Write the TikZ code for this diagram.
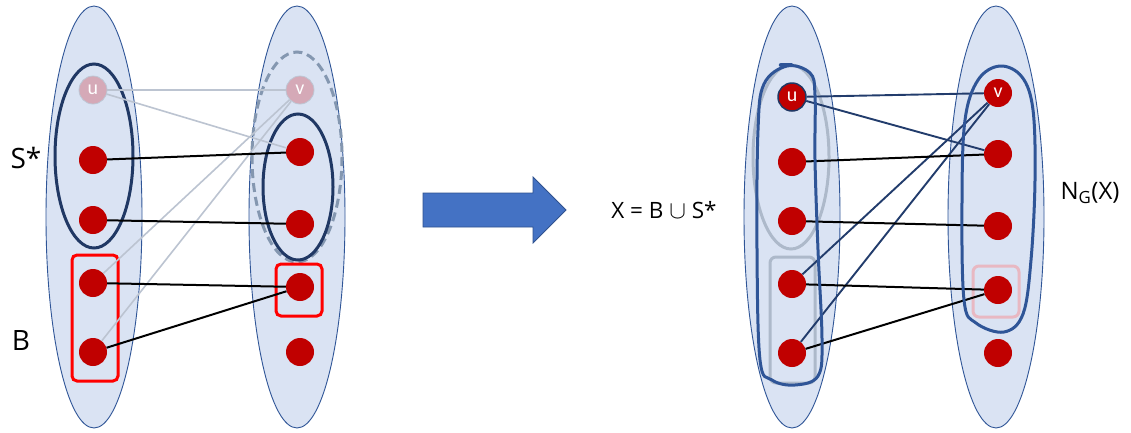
\documentclass[tikz,border=0pt]{standalone}
\usepackage{fontspec}
\setmainfont{Carlito}
\newfontfamily\lblfont{Open Sans}
\usepackage{tikz}
\usetikzlibrary{positioning,calc}
\definecolor{setfill}{HTML}{DAE3F3}
\definecolor{setline}{HTML}{2F5597}
\definecolor{vred}{HTML}{C00000}
\definecolor{navy}{HTML}{203864}
\definecolor{dashgray}{HTML}{8497B0}
\definecolor{fadev}{HTML}{D5A9B7}
\definecolor{fadeline}{HTML}{BCC4D1}
\definecolor{fadegrp}{HTML}{ADB9CA}
\definecolor{fadepink}{HTML}{E8B8C2}
\definecolor{arrfill}{HTML}{4472C4}
\definecolor{arrline}{HTML}{2F528F}

\begin{document}
\begin{tikzpicture}[x=1pt,y=-1pt,
  bigset/.style={fill=setfill, draw=setline, line width=0.9pt},
  vtx/.style={circle, fill=vred, minimum size=28pt, inner sep=0pt, font=\fontsize{20}{20}\selectfont, text=white},
  fvtx/.style={vtx, fill=fadev, draw=fadegrp!80, line width=0.8pt},
  lbl/.style={font=\lblfont\fontsize{28}{28}\selectfont},
  edge/.style={line width=2pt},
  fedge/.style={fadeline, line width=1.6pt},
  nedge/.style={navy!85!setline, line width=1.9pt}]
\useasboundingbox (0,0) rectangle (1131,432);
\fill[white] (0,0) rectangle (1131,432);

% left picture
\draw[bigset] (94,217) ellipse (48 and 211);
\draw[bigset] (297,217) ellipse (48 and 211);
\draw[navy, line width=3pt] (94,156) ellipse (39 and 92);
\draw[dashgray, line width=3pt, dash pattern=on 9pt off 5pt] (297,157) ellipse (45 and 105);
\draw[navy, line width=3pt] (298,187) ellipse (35 and 73);
\draw[red, line width=3pt, rounded corners=5pt] (72,255) rectangle (118,381);
\draw[red, line width=3pt, rounded corners=5pt] (276,264) rectangle (322,316);

\node[fvtx] (l1) at (93,90) {u};
\node[fvtx] (r1) at (300,90) {v};
\foreach \i/\y in {2/160,3/220,4/283,5/352} \node[vtx] (l\i) at (93,\y) {};
\foreach \i/\y in {2/152,3/224,4/287,5/352} \node[vtx] (r\i) at (300,\y) {};

\draw[fedge] (l1) -- (r1);
\draw[fedge] (l1) -- (r2);
\draw[fedge] (r1) -- (l4);
\draw[fedge] (r1) -- (l5);
\draw[edge] (l2) -- (r2);
\draw[edge] (l3) -- (r3);
\draw[edge] (l4) -- (r4);
\draw[edge] (l5) -- (r4);

\node[lbl] (sstar) at (26,158) {S*};
\node[lbl] (bset) at (21,340) {B};

% arrow
\draw[fill=arrfill, draw=arrline, line width=0.8pt] (423,193) -- (533,193) -- (533,177) -- (566,210)
  -- (533,243) -- (533,227) -- (423,227) -- cycle;
\node[font=\lblfont\fontsize{22.5}{22.5}\selectfont] (xdef) at (664,210)
  {X = B {\fontsize{27}{27}\selectfont$\cup$} S*};

% right picture
\draw[bigset] (792,217) ellipse (48 and 211);
\draw[bigset] (996,217) ellipse (48 and 211);
\draw[fadegrp, line width=3pt] (791,157) ellipse (38 and 92);
\draw[fadegrp, line width=3pt, rounded corners=6pt] (770,257) rectangle (815,383);
\draw[fadepink, line width=3pt, rounded corners=6pt] (973,266) rectangle (1019,317);

\node[vtx, draw=navy, line width=1.5pt] (a1) at (792,97) {u};
\node[vtx] (b1) at (998,93) {v};
\foreach \i/\y in {2/162,3/221,4/284,5/353} \node[vtx] (a\i) at (792,\y) {};
\foreach \i/\y in {2/154,3/226,4/290,5/353} \node[vtx] (b\i) at (998,\y) {};

\draw[nedge] (a1) -- (b1);
\draw[nedge] (a1) -- (b2);
\draw[nedge] (b1) -- (a4);
\draw[nedge] (b1) -- (a5);
\draw[edge] (a2) -- (b2);
\draw[edge] (a3) -- (b3);
\draw[edge] (a4) -- (b4);
\draw[edge] (a5) -- (b4);

\draw[setline, line width=3pt] plot[smooth cycle, tension=0.6] coordinates {(787,66) (810,73) (815,95)
  (815,160) (818,250) (822,340) (818,376) (795,385) (772,380) (760,360) (757,250) (758,130) (764,84)};
\draw[setline, line width=4.5pt, line cap=round] (781,65) -- (791,65);
\draw[setline, line width=3pt] plot[smooth cycle, tension=0.6] coordinates {(1000,66) (1022,77) (1033,110)
  (1035,180) (1031,260) (1023,314) (1004,332) (976,323) (964,300) (962,200) (965,120) (978,80)};

\node[font=\lblfont\fontsize{24}{24}\selectfont] (ngx) at (1090,193) {N\textsubscript{G}(X)};
\end{tikzpicture}
\end{document}
